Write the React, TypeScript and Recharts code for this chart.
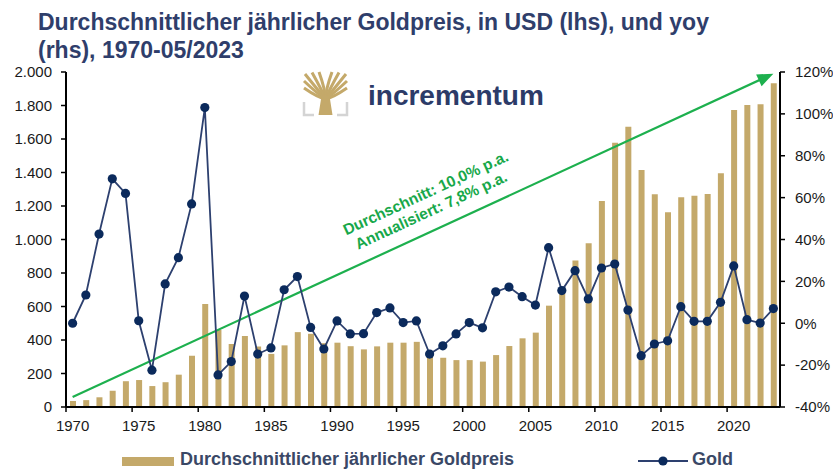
import { Bar, ComposedChart, Line, ReferenceLine, XAxis, YAxis } from "recharts";

const years = [
  "1970", "1971", "1972", "1973", "1974", "1975", "1976", "1977", "1978", "1979",
  "1980", "1981", "1982", "1983", "1984", "1985", "1986", "1987", "1988", "1989",
  "1990", "1991", "1992", "1993", "1994", "1995", "1996", "1997", "1998", "1999",
  "2000", "2001", "2002", "2003", "2004", "2005", "2006", "2007", "2008", "2009",
  "2010", "2011", "2012", "2013", "2014", "2015", "2016", "2017", "2018", "2019",
  "2020", "2021", "2022", "2023",
];

// average yearly gold price, USD (lhs)
const avgPrice = [
  36, 41, 58, 97, 154, 161, 125, 148, 193, 306,
  615, 460, 376, 424, 361, 317, 368, 447, 437, 381,
  384, 363, 344, 362, 384, 384, 389, 331, 294, 280,
  280, 271, 310, 364, 410, 444, 605, 695, 874, 977,
  1230, 1578, 1673, 1415, 1270, 1162, 1252, 1261, 1272, 1395,
  1773, 1803, 1808, 1933,
];

// year over year change, % (rhs)
const yoyChange = [
  0, 13.5, 42.6, 69, 62, 1.2, -22.4, 18.8, 31.3, 57,
  103, -24.7, -18.3, 13, -14.7, -11.8, 16, 22.3, -2, -12.3,
  1.1, -5.1, -5, 5.1, 7.3, 0.3, 1.1, -14.7, -10.8, -5.1,
  0.3, -2.2, 15, 17.3, 12.7, 8.7, 36.1, 15.6, 25.1, 11.6,
  26.4, 28.3, 6.3, -15.5, -9.9, -8.4, 7.9, 0.9, 0.9, 10,
  27.4, 1.7, 0.1, 7,
];

const leftTicks = [0, 200, 400, 600, 800, 1000, 1200, 1400, 1600, 1800, 2000];
const rightTicks = [-40, -20, 0, 20, 40, 60, 80, 100, 120];

const trendFrom = { year: "1970", value: 60 };
const trendTo = { year: "2023", value: 1990 };
const trendLabels = ["Durchschnitt: 10,0% p.a.", "Annualisiert: 7,8% p.a."];

const title1 = "Durchschnittlicher jährlicher Goldpreis, in USD (lhs), und yoy";
const title2 = "(rhs), 1970-05/2023";
const barName = "Durchschnittlicher jährlicher Goldpreis";
const lineName = "Gold";

const W = 833;
const H = 470;
const LEFT_W = 66;
const RIGHT_W = 53;
const bandW = (W - LEFT_W - RIGHT_W) / years.length;

const GOLD = "#c4a96a";
const NAVY_LINE = "#2d406f";
const NAVY_DOT = "#0b2a5c";
const GREEN = "#1db04e";
const TITLE = "#2f3e6b";
const FONT = "'Liberation Sans', Arial, sans-serif";

const rows = years.map((y, i) => ({ year: y, price: avgPrice[i], yoy: yoyChange[i] }));

const fmtThousands = (v: number) => v.toLocaleString("de-DE");

function YearTick(props: any) {
  const { x, y, payload } = props;
  const lx = x - bandW / 2;
  return (
    <g>
      <line x1={lx} x2={lx} y1={y - 13} y2={y - 8} stroke="#000" strokeWidth={1.5} />
      <text x={x} y={y} dy="0.71em" textAnchor="middle" fontSize={15} fill="#1a1a1a" fontFamily={FONT}>
        {payload.value}
      </text>
    </g>
  );
}

function TrendArrow(props: any) {
  const { x1, y1, x2, y2 } = props;
  const len = Math.hypot(x2 - x1, y2 - y1);
  const ux = (x2 - x1) / len;
  const uy = (y2 - y1) / len;
  // normal pointing to the upper side of the line
  const nx = uy;
  const ny = -ux;
  const ang = (Math.atan2(uy, ux) * 180) / Math.PI;
  const head = 16;
  const half = 6.5;
  const bx = x2 - ux * head;
  const by = y2 - uy * head;
  const labelPos = [
    { along: 316, perp: 32 },
    { along: 321, perp: 14 },
  ];
  return (
    <g>
      <line x1={x1} y1={y1} x2={x2 - ux * 10} y2={y2 - uy * 10} stroke={GREEN} strokeWidth={2.2} />
      <polygon
        points={`${x2},${y2} ${bx + nx * half},${by + ny * half} ${bx - nx * half},${by - ny * half}`}
        fill={GREEN}
      />
      {trendLabels.map((t, i) => {
        const px = x1 + ux * labelPos[i].along + nx * labelPos[i].perp;
        const py = y1 + uy * labelPos[i].along + ny * labelPos[i].perp;
        return (
          <text
            key={t}
            x={px}
            y={py}
            transform={`rotate(${ang} ${px} ${py})`}
            fill="#17a84a"
            fontSize={15.5}
            fontWeight="bold"
            fontFamily={FONT}
          >
            {t}
          </text>
        );
      })}
    </g>
  );
}

function Logo() {
  const branches = [
    [2, 2], [9, 0.5], [16, 0], [29, 0], [36, 0.5], [43, 2],
    [1, 9], [44, 9], [1, 16], [44, 16],
  ];
  return (
    <g transform="translate(303,72)">
      {branches.map(([bx, by], i) => (
        <path
          key={i}
          d={`M22.5 27 Q${(22.5 + bx) / 2 + (bx < 22.5 ? 3 : -3)} ${(27 + by) / 2 + 4} ${bx} ${by}`}
          stroke={GOLD}
          strokeWidth={3}
          fill="none"
        />
      ))}
      <path d="M15.5 43 L29.5 43 L26.5 24 L18.5 24 Z" fill={GOLD} />
      <path d="M1 30 L1 43 L11 43" stroke="#d4d4d4" strokeWidth={2.5} fill="none" />
      <path d="M44 30 L44 43 L34 43" stroke="#d4d4d4" strokeWidth={2.5} fill="none" />
    </g>
  );
}

export default function App() {
  return (
    <div style={{ position: "absolute", left: 0, top: 0, width: W, height: H, overflow: "hidden", background: "#fff" }}>
      <ComposedChart
        width={W}
        height={H}
        data={rows}
        margin={{ top: 72, right: 0, bottom: 33, left: 0 }}
        barCategoryGap={0}
      >
        <XAxis
          dataKey="year"
          interval={4}
          tickLine={false}
          tickSize={5}
          tickMargin={8}
          height={30}
          axisLine={{ stroke: "#000", strokeWidth: 2 }}
          tick={<YearTick />}
        />
        <YAxis
          yAxisId="l"
          width={LEFT_W}
          domain={[0, 2000]}
          ticks={leftTicks}
          interval={0}
          tickSize={5}
          tickMargin={9}
          axisLine={{ stroke: "#000", strokeWidth: 2 }}
          tickLine={{ stroke: "#000", strokeWidth: 1.5 }}
          tick={{ fontSize: 15, fill: "#1a1a1a", fontFamily: FONT }}
          tickFormatter={(v) => fmtThousands(Number(v))}
        />
        <YAxis
          yAxisId="r"
          orientation="right"
          width={RIGHT_W}
          domain={[-40, 120]}
          ticks={rightTicks}
          interval={0}
          tickSize={5}
          tickMargin={10}
          axisLine={{ stroke: "#000", strokeWidth: 2 }}
          tickLine={{ stroke: "#000", strokeWidth: 1.5 }}
          tick={{ fontSize: 15, fill: "#1a1a1a", fontFamily: FONT, textAnchor: "start" }}
          tickFormatter={(v) => `${v}%`}
        />
        <Bar yAxisId="l" dataKey="price" fill={GOLD} barSize={6} isAnimationActive={false} />
        <ReferenceLine
          yAxisId="l"
          segment={[
            { x: trendFrom.year, y: trendFrom.value },
            { x: trendTo.year, y: trendTo.value },
          ]}
          ifOverflow="visible"
          shape={(p: any) => <TrendArrow {...p} />}
        />
        <Line
          yAxisId="r"
          dataKey="yoy"
          type="linear"
          stroke={NAVY_LINE}
          strokeWidth={1.8}
          dot={{ r: 4.6, fill: NAVY_DOT, stroke: NAVY_DOT, strokeWidth: 0 }}
          activeDot={false}
          isAnimationActive={false}
        />
      </ComposedChart>

      <svg width={W} height={H} style={{ position: "absolute", left: 0, top: 0, pointerEvents: "none" }}>
        <text x={38} y={30} fontSize={23} fontWeight="bold" fill={TITLE} fontFamily={FONT}>
          {title1}
        </text>
        <text x={38} y={58} fontSize={23} fontWeight="bold" fill={TITLE} fontFamily={FONT}>
          {title2}
        </text>

        <Logo />
        <text x={368} y={105} fontSize={28} fontWeight="bold" fill="#2c3b68" fontFamily={FONT}>
          incrementum
        </text>

        <rect x={122} y={457} width={52} height={9} fill={GOLD} />
        <text x={180} y={465} fontSize={18} fontWeight="bold" fill="#3a4866" fontFamily={FONT}>
          {barName}
        </text>
        <line x1={638} x2={688} y1={461} y2={461} stroke={NAVY_LINE} strokeWidth={1.8} />
        <circle cx={663} cy={461} r={4.6} fill={NAVY_DOT} />
        <text x={692} y={465} fontSize={18} fontWeight="bold" fill="#3a4866" fontFamily={FONT}>
          {lineName}
        </text>
      </svg>
    </div>
  );
}
